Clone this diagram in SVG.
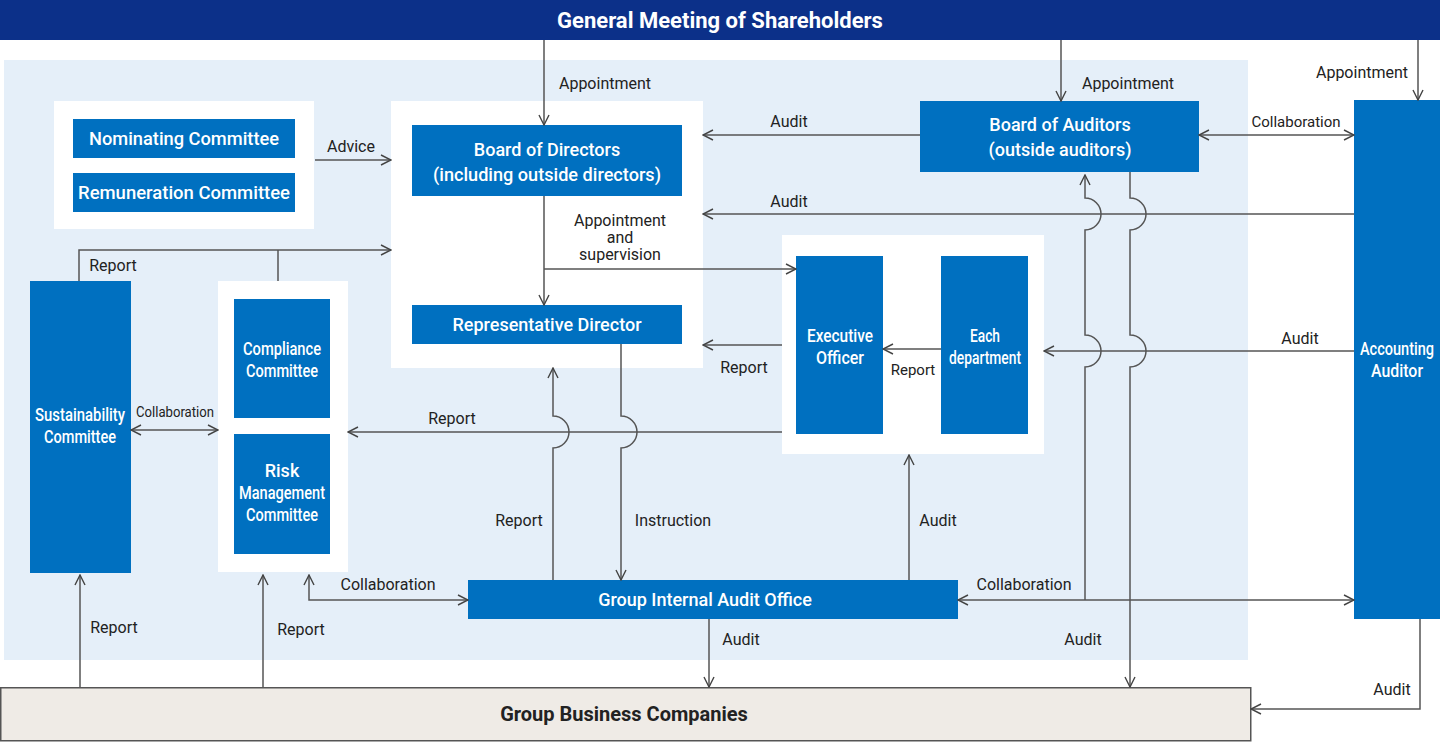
<svg xmlns="http://www.w3.org/2000/svg" width="1440" height="742" viewBox="0 0 1440 742">
<defs>
<marker id="a" viewBox="0 0 12 12" refX="11" refY="6" markerWidth="12" markerHeight="12" markerUnits="userSpaceOnUse" orient="auto-start-reverse"><path d="M1,1 L11,6 L1,11" fill="none" stroke="#444" stroke-width="1.4"/></marker>
</defs>
<style>
.b{fill:#0070c0}
.w{fill:#fff}
.bt{fill:#fff;font-family:Roboto,"Noto Sans",sans-serif;font-size:18px;font-weight:500;text-anchor:middle}
.lt{fill:#222;font-family:Roboto,"Noto Sans",sans-serif;font-size:16px;text-anchor:middle}
.c path{fill:none;stroke:#555;stroke-width:1.5}
</style>
<rect x="0" y="0" width="1440" height="40" fill="#0c3089"/>
<text x="720" y="28" class="bt" style="font-size:22px;font-weight:700">General Meeting of Shareholders</text>
<rect x="4" y="60" width="1244" height="600" fill="#e5eff9"/>
<g id="committees"><rect x="54" y="101" width="260" height="128" class="w"/>
<rect x="73" y="119" width="222" height="39" class="b"/><text x="184" y="145" class="bt" textLength="190" lengthAdjust="spacingAndGlyphs">Nominating Committee</text>
<rect x="73" y="173" width="222" height="39" class="b"/><text x="184" y="199" class="bt" textLength="212" lengthAdjust="spacingAndGlyphs">Remuneration Committee</text></g>
<g id="bod"><rect x="391" y="101" width="312" height="267" class="w"/>
<rect x="412" y="125" width="270" height="71" class="b"/><text x="547" y="156" class="bt">Board of Directors</text><text x="547" y="181" class="bt" textLength="228" lengthAdjust="spacingAndGlyphs">(including outside directors)</text>
<rect x="412" y="305" width="270" height="39" class="b"/><text x="547" y="331" class="bt">Representative Director</text></g>
<g id="exec"><rect x="782" y="235" width="262" height="219" class="w"/>
<rect x="796" y="256" width="87" height="178" class="b"/><text x="840" y="342" class="bt" textLength="66" lengthAdjust="spacingAndGlyphs">Executive</text><text x="840" y="364" class="bt" textLength="48" lengthAdjust="spacingAndGlyphs">Officer</text>
<rect x="941" y="256" width="87" height="178" class="b"/><text x="985" y="342" class="bt" textLength="30" lengthAdjust="spacingAndGlyphs">Each</text><text x="985" y="364" class="bt" textLength="72" lengthAdjust="spacingAndGlyphs">department</text></g>
<g id="boa"><rect x="920" y="101" width="279" height="71" class="b"/><text x="1060" y="131" class="bt">Board of Auditors</text><text x="1060" y="156" class="bt">(outside auditors)</text></g>
<g id="aa"><rect x="1354" y="100" width="86" height="519" class="b"/><text x="1397" y="355" class="bt" textLength="74" lengthAdjust="spacingAndGlyphs">Accounting</text><text x="1397" y="377" class="bt" textLength="52" lengthAdjust="spacingAndGlyphs">Auditor</text></g>
<g id="sus"><rect x="30" y="281" width="101" height="292" class="b"/><text x="80" y="421" class="bt" textLength="90" lengthAdjust="spacingAndGlyphs">Sustainability</text><text x="80" y="443" class="bt" textLength="72" lengthAdjust="spacingAndGlyphs">Committee</text></g>
<g id="comp"><rect x="218" y="281" width="130" height="291" class="w"/>
<rect x="234" y="299" width="96" height="119" class="b"/><text x="282" y="355" class="bt" textLength="78" lengthAdjust="spacingAndGlyphs">Compliance</text><text x="282" y="377" class="bt" textLength="72" lengthAdjust="spacingAndGlyphs">Committee</text>
<rect x="234" y="434" width="96" height="120" class="b"/><text x="282" y="477" class="bt">Risk</text><text x="282" y="499" class="bt" textLength="86" lengthAdjust="spacingAndGlyphs">Management</text><text x="282" y="521" class="bt" textLength="72" lengthAdjust="spacingAndGlyphs">Committee</text></g>
<g id="giao"><rect x="468" y="580" width="490" height="39" class="b"/><text x="705" y="606" class="bt">Group Internal Audit Office</text></g>
<g id="gbc"><rect x="0.75" y="687.75" width="1250" height="53" fill="#efebe6" stroke="#555" stroke-width="1.5"/><text x="624" y="721" class="lt" style="font-size:20px;font-weight:700">Group Business Companies</text></g>
<g class="c">
<path d="M544,40 V125" marker-end="url(#a)"/>
<path d="M1061,40 V101" marker-end="url(#a)"/>
<path d="M1418,40 V100" marker-end="url(#a)"/>
<path d="M315,160 H391" marker-end="url(#a)"/>
<path d="M920,135 H703" marker-end="url(#a)"/>
<path d="M1199,135 H1354" marker-start="url(#a)" marker-end="url(#a)"/>
<path d="M1354,214 H703" marker-end="url(#a)"/>
<path d="M544,196 V305" marker-end="url(#a)"/>
<path d="M544,269 H796" marker-end="url(#a)"/>
<path d="M79,281 V250 H391" marker-end="url(#a)"/>
<path d="M278,281 V250"/>
<path d="M782,345 H703" marker-end="url(#a)"/>
<path d="M941,349 H883" marker-end="url(#a)"/>
<path d="M1354,351 H1044" marker-end="url(#a)"/>
<path d="M782,432 H348" marker-end="url(#a)"/>
<path d="M131,430 H218" marker-start="url(#a)" marker-end="url(#a)"/>
<path d="M553,580 V448 A16,16 0 0 0 553,416 V368" marker-end="url(#a)"/>
<path d="M621,344 V416 A16,16 0 0 1 621,448 V580" marker-end="url(#a)"/>
<path d="M909,580 V455" marker-end="url(#a)"/>
<path d="M309,575 V600 H468" marker-start="url(#a)" marker-end="url(#a)"/>
<path d="M958,600 H1354" marker-start="url(#a)" marker-end="url(#a)"/>
<path d="M1085,600 V367 A16,16 0 0 0 1085,335 V230 A16,16 0 0 0 1085,198 V175" marker-end="url(#a)"/>
<path d="M1130,172 V198 A16,16 0 0 1 1130,230 V335 A16,16 0 0 1 1130,367 V687" marker-end="url(#a)"/>
<path d="M709,619 V687" marker-end="url(#a)"/>
<path d="M1420,619 V709 H1251" marker-end="url(#a)"/>
<path d="M80,687 V575" marker-end="url(#a)"/>
<path d="M263,687 V575" marker-end="url(#a)"/>
</g>
<g id="labels" class="lt">
<text x="605" y="89">Appointment</text>
<text x="1128" y="89">Appointment</text>
<text x="1362" y="78">Appointment</text>
<text x="351" y="152">Advice</text>
<text x="789" y="127">Audit</text>
<text x="1296" y="127" style="font-size:15px">Collaboration</text>
<text x="789" y="207">Audit</text>
<text x="620" y="226">Appointment</text><text x="620" y="243">and</text><text x="620" y="260">supervision</text>
<text x="113" y="271">Report</text>
<text x="744" y="373">Report</text>
<text x="913" y="375" style="font-size:15px">Report</text>
<text x="1300" y="344">Audit</text>
<text x="452" y="424">Report</text>
<text x="175" y="417" style="font-size:14px" textLength="78" lengthAdjust="spacingAndGlyphs">Collaboration</text>
<text x="519" y="526">Report</text>
<text x="673" y="526">Instruction</text>
<text x="938" y="526">Audit</text>
<text x="388" y="590">Collaboration</text>
<text x="1024" y="590">Collaboration</text>
<text x="741" y="645">Audit</text>
<text x="1083" y="645">Audit</text>
<text x="1392" y="695">Audit</text>
<text x="114" y="633">Report</text>
<text x="301" y="635">Report</text>
</g>
</svg>
